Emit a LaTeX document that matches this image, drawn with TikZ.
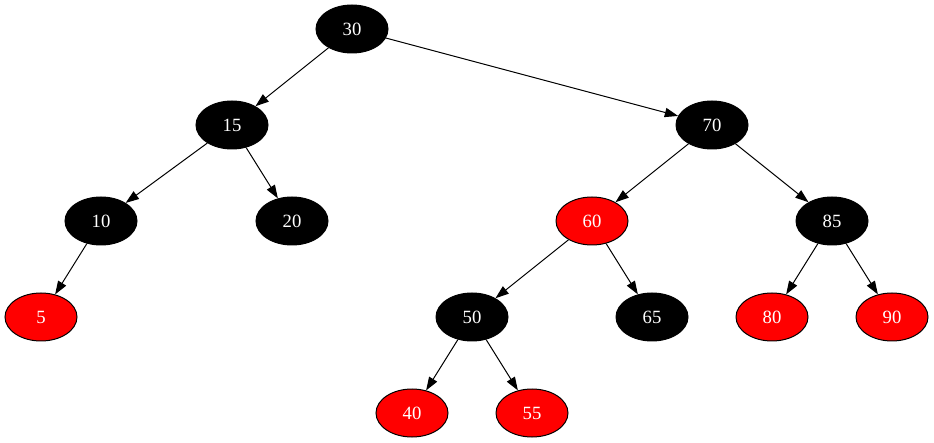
\documentclass[tikz,border=0pt]{standalone}
\usepackage{fontspec}
\setmainfont{Liberation Serif}
\usetikzlibrary{shapes.geometric,arrows.meta}
\begin{document}
\begin{tikzpicture}[x=1pt,y=-1pt,
  rb/.style={ellipse,draw=black,line width=1pt,minimum width=72pt,minimum height=48pt,inner sep=0pt,text=white,font=\fontsize{18.7}{20}\selectfont},
  bn/.style={rb,fill=black},
  rn/.style={rb,fill=red},
  edge/.style={draw,line width=1pt,-{Triangle[length=13.3pt,width=9.3pt]}}]
\useasboundingbox (0,0) rectangle (934,443);
\node[bn] (n30) at (352,29) {30};
\node[bn] (n15) at (232,125) {15};
\node[bn] (n70) at (712,125) {70};
\node[bn] (n10) at (101,221) {10};
\node[bn] (n20) at (292,221) {20};
\node[rn] (n60) at (592,221) {60};
\node[bn] (n85) at (832,221) {85};
\node[rn] (n5) at (41,317) {5};
\node[bn] (n50) at (472,317) {50};
\node[bn] (n65) at (652,317) {65};
\node[rn] (n80) at (772,317) {80};
\node[rn] (n90) at (892,317) {90};
\node[rn] (n40) at (412,413) {40};
\node[rn] (n55) at (532,413) {55};
\draw[edge] (n30) -- (n15);
\draw[edge] (n30) -- (n70);
\draw[edge] (n15) -- (n10);
\draw[edge] (n15) -- (n20);
\draw[edge] (n10) -- (n5);
\draw[edge] (n70) -- (n60);
\draw[edge] (n70) -- (n85);
\draw[edge] (n60) -- (n50);
\draw[edge] (n60) -- (n65);
\draw[edge] (n85) -- (n80);
\draw[edge] (n85) -- (n90);
\draw[edge] (n50) -- (n40);
\draw[edge] (n50) -- (n55);
\end{tikzpicture}
\end{document}
